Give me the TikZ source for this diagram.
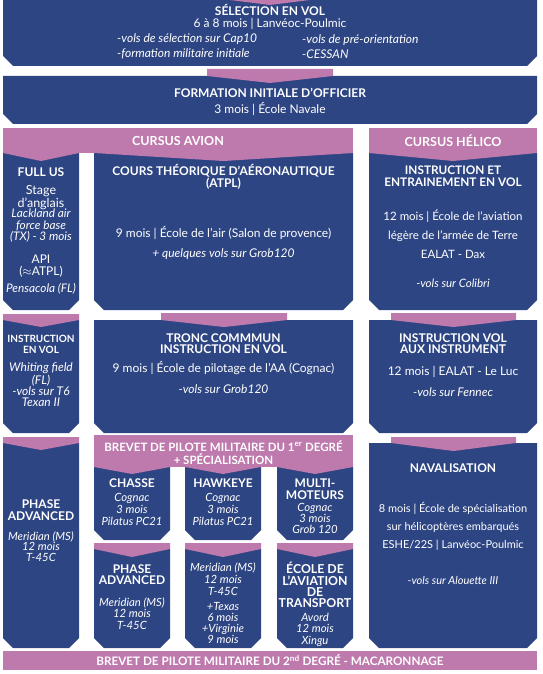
\documentclass[tikz,border=0pt]{standalone}
\usepackage{fontspec}
\setmainfont{Lato}
\definecolor{navy}{RGB}{46,69,131}
\definecolor{rose}{RGB}{190,121,173}
\tikzset{
  titre/.style 2 args={text=white, font=\bfseries\fontsize{#1}{#2}\selectfont, align=center, inner sep=0pt},
  texte/.style 2 args={text=white, font=\fontsize{#1}{#2}\selectfont, align=center, inner sep=0pt},
  ital/.style 2 args={text=white, font=\itshape\fontsize{#1}{#2}\selectfont, align=center, inner sep=0pt},
}
% navy box, bottom corners cut
\newcommand{\boite}[4]{\fill[navy] (#1,#2) -- (#3,#2) -- (#3,#4-10) -- (#3-10,#4) -- (#1+10,#4) -- (#1,#4-10) -- cycle;}
% pink cap pointing down
\newcommand{\capot}[5]{\fill[rose] (#1,#3) -- (#2,#3) -- (#2,#4) -- ({(#1+#2)/2},#5) -- (#1,#4) -- cycle;}

\begin{document}
\begin{tikzpicture}[x=1pt,y=-1pt]
	\useasboundingbox (0,0) rectangle (542,674);
	% boxes
	\boite{3}{0}{537}{66}
	\fill[rose] (230,0) -- (310,0) -- (270,5) -- cycle;
	\boite{3}{76}{537}{124}
	\capot{207}{333}{69}{76}{83}
	\boite{3}{153}{79}{310}
	\boite{94}{153}{353}{310}
	\boite{369}{153}{537}{310}
	\fill[rose] (3,128) rectangle (353,153);
	\fill[rose] (369,128) rectangle (537,153);
	\capot{3}{79}{150}{153}{161}
	\capot{94}{353}{150}{153}{161}
	\capot{369}{537}{150}{153}{161}
	\boite{3}{320}{79}{433}
	\boite{94}{320}{353}{433}
	\boite{369}{320}{537}{433}
	\capot{3}{79}{314}{320}{327}
	\capot{161}{287}{313}{320}{327}
	\capot{391}{516}{313}{320}{327}
	\boite{3}{443}{79}{648}
	\boite{369}{443}{537}{648}
	\capot{3}{79}{437}{443}{450}
	\capot{391}{516}{437}{443}{451}
	\fill[rose] (94,435) rectangle (353,467);
	\foreach \x in {94,185,277} {
		\boite{\x}{467}{\x+76}{540}
		\capot{\x}{\x+76}{464}{467}{474}
		\boite{\x}{549}{\x+76}{648}
		\capot{\x}{\x+76}{543}{549}{557}
	}
	\fill[rose] (3,651) rectangle (537,670);

	% texts
	\node[titre={12}{12}] (sel) at (270,10) {SÉLECTION EN VOL};
	\node[texte={12}{12}] (seldur) at (270,24) {6 à 8 mois | Lanvéoc-Poulmic};
	\node[ital={12}{15}, align=left, anchor=west] (sela) at (117,46.5) {-vols de sélection sur Cap10\\-formation militaire initiale};
	\node[ital={12}{15}, align=left, anchor=west] (selb) at (302,46.5) {-vols de pré-orientation\\-CESSAN};
	\node[titre={12}{12}] (fio) at (270,93) {FORMATION INITIALE D'OFFICIER};
	\node[texte={12}{12}] (fiodur) at (270,109) {3 mois | École Navale};
	\node[titre={12.5}{12}] (avion) at (178,141) {CURSUS AVION};
	\node[titre={12.5}{12}] (helico) at (453,141) {CURSUS HÉLICO};

	\node[titre={12}{12}] (fullus) at (41,172) {FULL US};
	\node[texte={12.5}{11}] (stage) at (41,197.5) {Stage\\d'anglais};
	\node[ital={11.8}{11.5}] (lackland) at (41,226) {Lackland air\\force base\\(TX) - 3 mois};
	\node[texte={12}{11.5}] (api) at (41,266) {API\\($\approx$ATPL)};
	\node[ital={11.8}{11.5}] (pensacola) at (41,289) {Pensacola (FL)};
	\node[titre={12}{12}] (atpl) at (223.5,177) {COURS THÉORIQUE D'AÉRONAUTIQUE\\(ATPL)};
	\node[texte={12}{12}] (atpldur) at (223.5,233) {9 mois | École de l'air (Salon de provence)};
	\node[ital={12}{12}] (atplvol) at (223.5,254) {+ quelques vols sur Grob120};
	\node[titre={11.8}{12}] (entr) at (453,176) {INSTRUCTION ET\\ENTRAINEMENT EN VOL};
	\node[texte={11.5}{19}] (entrdur) at (453,234) {12 mois | École de l'aviation\\légère de l'armée de Terre\\EALAT - Dax};
	\node[ital={11.5}{12}] (entrvol) at (453,283) {-vols sur Colibri};

	\node[titre={10}{11}] (invol) at (41,344.5) {INSTRUCTION\\EN VOL};
	\node[ital={12}{11.3}] (whiting) at (41,385) {Whiting field\\(FL)\\-vols sur T6\\Texan II};
	\node[titre={12}{11.5}] (tronc) at (223.5,343.5) {TRONC COMMMUN\\INSTRUCTION EN VOL};
	\node[texte={12}{12}] (troncdur) at (223.5,368) {9 mois | École de pilotage de l'AA (Cognac)};
	\node[ital={12}{12}] (troncvol) at (223.5,389) {-vols sur Grob120};
	\node[titre={12}{11.5}] (instr) at (453,343.5) {INSTRUCTION VOL\\AUX INSTRUMENT};
	\node[texte={12}{12}] (instrdur) at (453,372) {12 mois | EALAT - Le Luc};
	\node[ital={12}{12}] (instrvol) at (453,392) {-vols sur Fennec};

	\node[titre={12}{12}] (adv) at (41,510) {PHASE\\ADVANCED};
	\node[ital={11.3}{10.5}] (advdur) at (41,546.5) {Meridian (MS)\\12 mois\\T-45C};
	\node[titre={11.5}{13}] (bpma) at (223.5,452.5) {BREVET DE PILOTE MILITAIRE DU 1\textsuperscript{er} DEGRÉ\\+ SPÉCIALISATION};
	\node[titre={12}{12}] (chasse) at (132,483) {CHASSE};
	\node[ital={11.3}{12}] (chassedur) at (132,509) {Cognac\\3 mois\\Pilatus PC21};
	\node[titre={12}{12}] (hawk) at (223,483) {HAWKEYE};
	\node[ital={11.3}{12}] (hawkdur) at (223,509) {Cognac\\3 mois\\Pilatus PC21};
	\node[titre={12}{12}] (multi) at (315,489) {MULTI-\\MOTEURS};
	\node[ital={11.3}{11}] (multidur) at (315,518) {Cognac\\3 mois\\Grob 120};
	\node[titre={12}{12}] (naval) at (453,468) {NAVALISATION};
	\node[texte={11}{18}] (navaldur) at (453,526) {8 mois | École de spécialisation\\sur hélicoptères embarqués\\ESHE/22S | Lanvéoc-Poulmic};
	\node[ital={11}{12}] (navalvol) at (453,580) {-vols sur Alouette III};

	\node[titre={12}{11}] (advb) at (132,574.5) {PHASE\\ADVANCED};
	\node[ital={11.3}{11.5}] (advbdur) at (132,613.5) {Meridian (MS)\\12 mois\\T-45C};
	\node[ital={11.3}{12}] (merid) at (223,579) {Meridian (MS)\\12 mois\\T-45C};
	\node[ital={11.3}{11.3}] (texas) at (223,623) {+Texas\\6 mois\\+Virginie\\9 mois};
	\node[titre={12.3}{11.3}] (eat) at (315,585) {ÉCOLE DE\\L'AVIATION\\DE\\TRANSPORT};
	\node[ital={11.3}{11.5}] (eatdur) at (315,629.5) {Avord\\12 mois\\Xingu};
	\node[titre={11.7}{12}] (bpmb) at (270,660) {BREVET DE PILOTE MILITAIRE DU 2\textsuperscript{nd} DEGRÉ - MACARONNAGE};
\end{tikzpicture}
\end{document}
